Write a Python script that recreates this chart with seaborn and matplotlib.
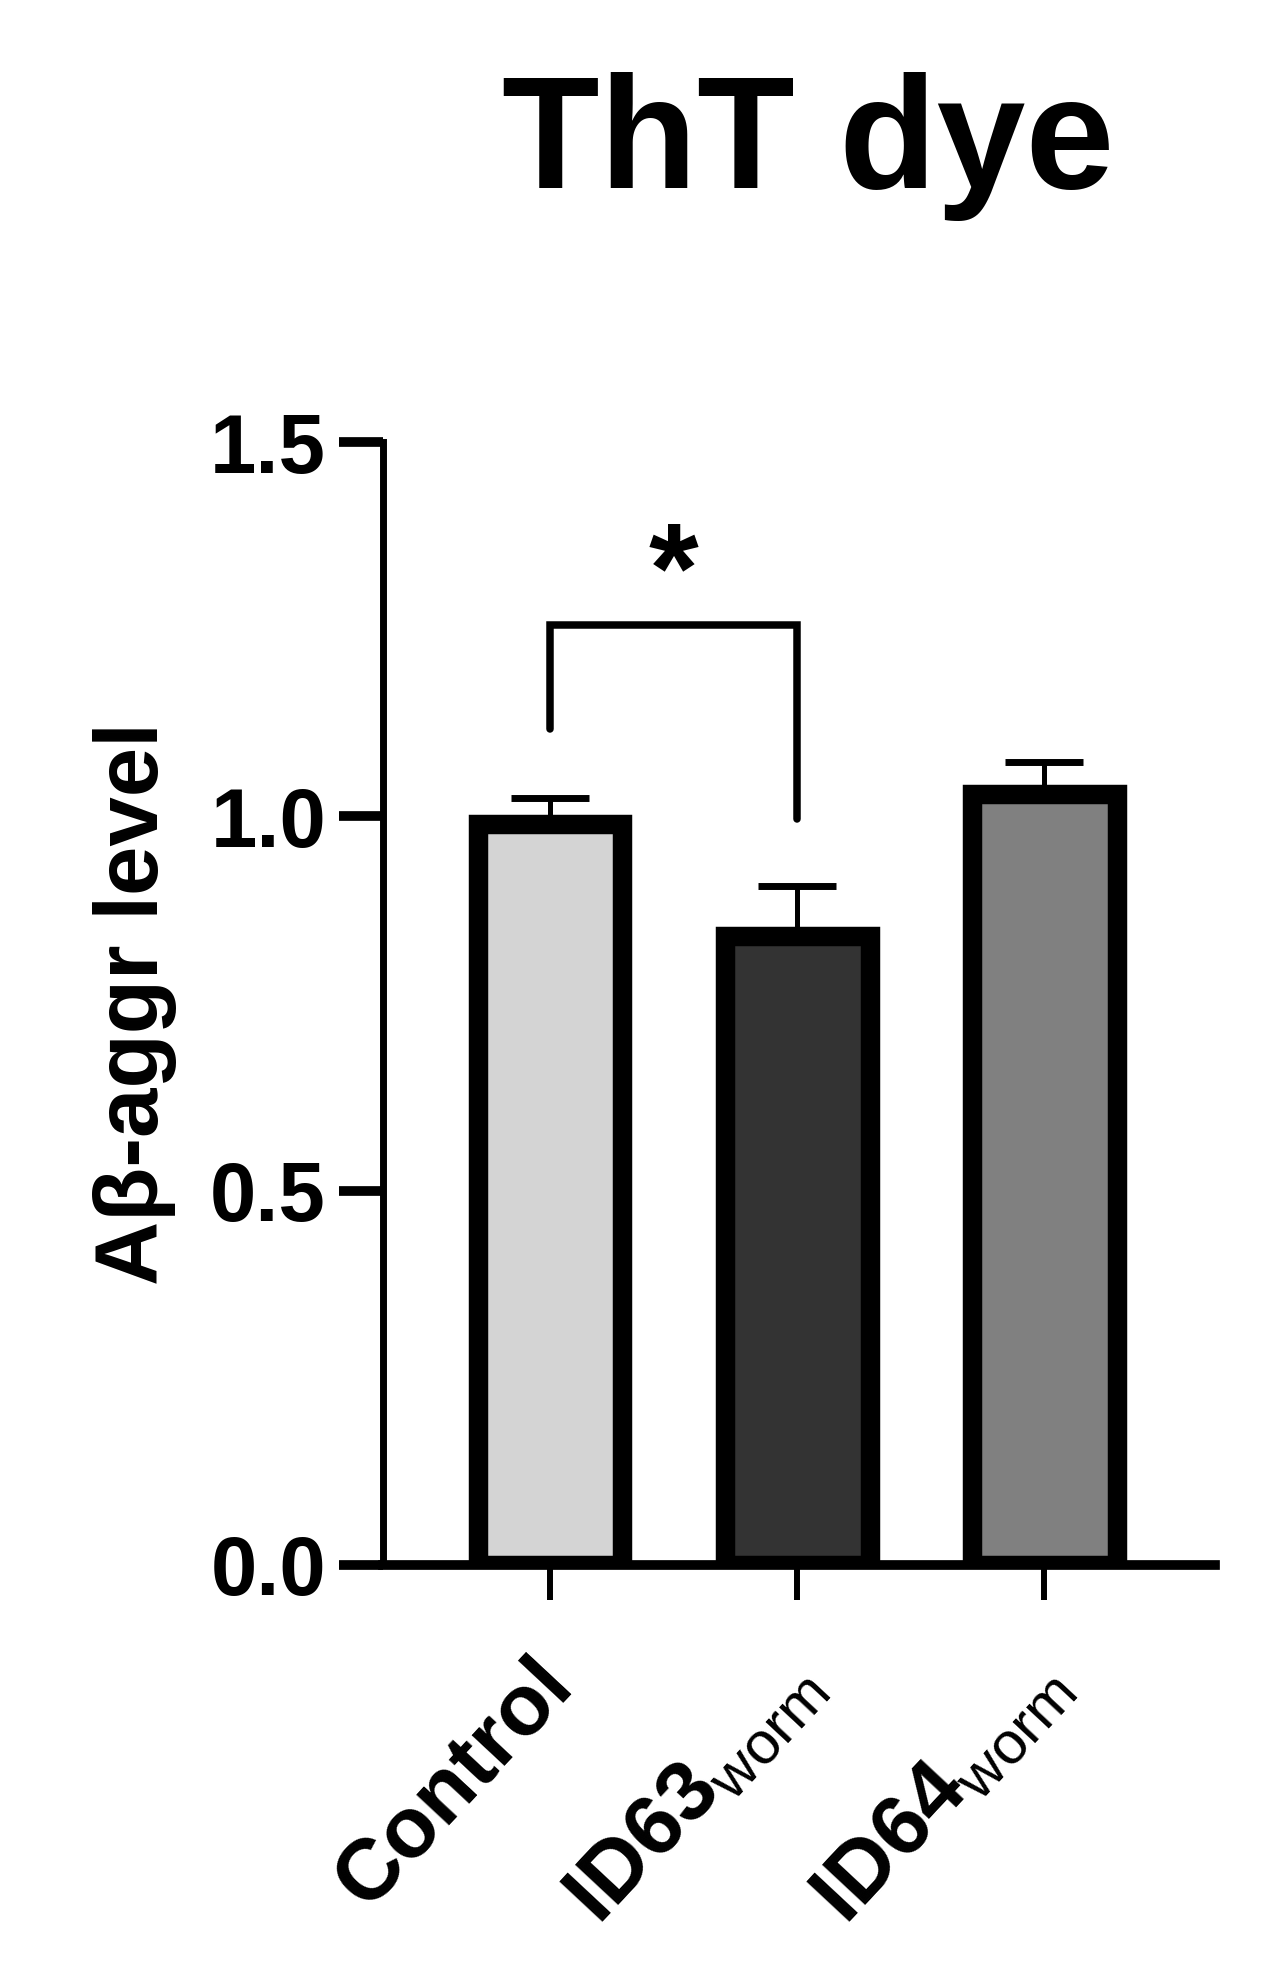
import numpy as np
import pandas as pd
import seaborn as sns
import matplotlib
matplotlib.use("Agg")
import matplotlib.pyplot as plt
from matplotlib.transforms import ScaledTranslation

# data
groups = ["Control", "ID63", "ID64"]
tick_labels = ["Control", r"ID63$_{\mathrm{worm}}$", r"ID64$_{\mathrm{worm}}$"]
means = [0.99, 0.84, 1.03]
sems = [0.034, 0.067, 0.042]
bar_colors = ["#d4d4d4", "#333333", "#808080"]
yticks = [0.0, 0.5, 1.0, 1.5]

sns.set_theme(style="white")
plt.rcParams['font.family'] = ['Liberation Sans', 'DejaVu Sans']
plt.rcParams['font.weight'] = 'bold'
plt.rcParams['mathtext.fontset'] = 'custom'
plt.rcParams['mathtext.rm'] = 'Liberation Sans:weight=normal'

df = pd.DataFrame({"group": groups, "value": means})

fig = plt.figure(figsize=(12.79, 19.68), dpi=100)
ax = fig.add_axes([0.2995, 0.2048, 0.9500 - 0.2995, 0.7754 - 0.2048])

sns.barplot(data=df, x="group", y="value", hue="group", palette=bar_colors,
            width=0.585, edgecolor="black", linewidth=14, errorbar=None,
            legend=False, ax=ax, zorder=3)

# upper error bars only
x = np.arange(len(groups))
ax.errorbar(x, means, yerr=[np.zeros(len(sems)), sems], fmt="none",
            ecolor="black", elinewidth=3.6, capsize=28, capthick=5, zorder=2)

ax.set_xlim(-0.675, 2.69)
ax.set_ylim(0, 1.5)
ax.set_yticks(yticks)
ax.set_yticklabels(["0.0", "0.5", "1.0", "1.5"])
ax.set_xticks(x)
ax.set_xticklabels(tick_labels, rotation=47, ha="right", rotation_mode="anchor")

for s in ["top", "right"]:
    ax.spines[s].set_visible(False)
ax.spines["left"].set_linewidth(5)
ax.spines["bottom"].set_linewidth(7)
ax.spines["left"].set_color("black")
ax.spines["bottom"].set_color("black")

ax.tick_params(axis="y", length=32, width=7, direction="out", pad=9,
               labelsize=60, colors="black", left=True)
ax.tick_params(axis="x", length=25, width=4.3, direction="out", pad=32,
               labelsize=62, colors="black", bottom=True)
for t in ax.get_yticklabels():
    t.set_fontweight("bold")
shift = ScaledTranslation(-20 / 100, 0, fig.dpi_scale_trans)
for t in ax.get_xticklabels():
    t.set_fontweight("bold")
    t.set_transform(t.get_transform() + shift)

ax.set_xlabel("")
ax.set_ylabel("Aβ-aggr level", fontsize=64, fontweight="bold", labelpad=24,
              color="black")

# significance bracket
ax.plot([0, 0, 1, 1], [1.117, 1.255, 1.255, 0.997], color="black",
        lw=5.4, solid_joinstyle="miter", zorder=4, clip_on=False)
ax.text(0.5, 1.238, "*", ha="center", va="bottom", fontsize=92,
        fontweight="bold", color="black")

fig.text(0.632, 0.9045, "ThT dye", ha="center", va="baseline",
         fontsize=115, fontweight="bold", color="black")

fig.savefig("out.png", dpi=100)
